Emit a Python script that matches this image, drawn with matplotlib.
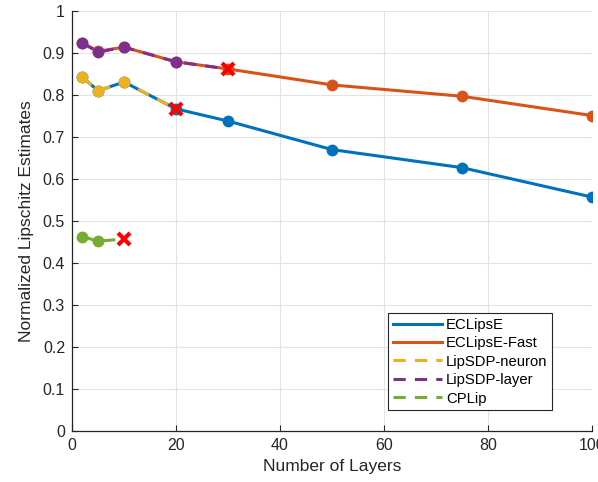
import matplotlib.pyplot as plt

plt.rcParams['font.family'] = ['Liberation Sans', 'DejaVu Sans']

# layer counts
layers = [2, 5, 10, 20, 30, 50, 75, 100]
eclipse = [0.843, 0.810, 0.831, 0.767, 0.738, 0.670, 0.627, 0.557]
eclipse_fast = [0.924, 0.904, 0.914, 0.879, 0.862, 0.824, 0.797, 0.751]

neuron_layers = [2, 5, 10, 20]
lipsdp_neuron = [0.843, 0.810, 0.831, 0.767]
layer_layers = [2, 5, 10, 20, 30]
lipsdp_layer = [0.924, 0.902, 0.914, 0.879, 0.862]
cplip_layers = [2, 5, 10]
cplip = [0.463, 0.452, 0.457]

# where each baseline stopped (last point marked with red x)
fail_x = [neuron_layers[-1], layer_layers[-1], cplip_layers[-1]]
fail_y = [lipsdp_neuron[-1], lipsdp_layer[-1], cplip[-1]]

blue = '#0072BD'
orange = '#D95319'
yellow = '#EDB120'
purple = '#7E2F8E'
green = '#77AC30'
txt = '#262626'

fig = plt.figure(figsize=(5.98, 4.82), dpi=100)
ax = fig.add_axes([72/598, 51/482, 520/598, 420/482])

lw = 2.2
ms = 7.5
ax.plot(layers, eclipse, '-', color=blue, lw=lw, label='ECLipsE')
ax.plot(layers, eclipse, 'o', color=blue, ms=ms)
ax.plot(layers, eclipse_fast, '-', color=orange, lw=lw, label='ECLipsE-Fast')
ax.plot(layers, eclipse_fast, 'o', color=orange, ms=ms)
ax.plot(neuron_layers[:-1], lipsdp_neuron[:-1], 'o', color=yellow, ms=ms)
ax.plot(neuron_layers, lipsdp_neuron, '--', color=yellow, lw=lw, dashes=(4, 3), label='LipSDP-neuron')
ax.plot(layer_layers[:-1], lipsdp_layer[:-1], 'o', color=purple, ms=ms)
ax.plot(layer_layers, lipsdp_layer, '--', color=purple, lw=lw, dashes=(4, 3), label='LipSDP-layer')
ax.plot(cplip_layers[:-1], cplip[:-1], 'o', color=green, ms=ms)
ax.plot(cplip_layers, cplip, '--', color=green, lw=lw, dashes=(4, 3), label='CPLip')
ax.plot(fail_x, fail_y, 'x', color='#FF0000', ms=9, mew=3, zorder=5)

ax.set_xlim(0, 100)
ax.set_ylim(0, 1)
ax.set_xticks(range(0, 101, 20))
ax.set_yticks([i / 10 for i in range(11)])
ax.set_yticklabels(['0'] + ['%.1f' % (i / 10) for i in range(1, 10)] + ['1'])
ax.grid(True, color='#e3e3e3', lw=0.8)
ax.set_axisbelow(True)
for s in ['top', 'right']:
    ax.spines[s].set_visible(False)
for s in ['left', 'bottom']:
    ax.spines[s].set_color(txt)
    ax.spines[s].set_linewidth(0.9)
ax.tick_params(direction='in', length=4, colors=txt, labelsize=11.5, pad=5)

ax.set_xlabel('Number of Layers', fontsize=12.5, color=txt, labelpad=4)
ax.set_ylabel('Normalized Lipschitz Estimates', fontsize=12.5, color=txt, labelpad=6)

leg = ax.legend(loc='lower right', bbox_to_anchor=(552/598, 72/482), bbox_transform=fig.transFigure,
                fontsize=10.7, handlelength=3.3, handletextpad=0.3, labelspacing=0.3,
                borderpad=0.3, fancybox=False, framealpha=1, edgecolor='#262626', borderaxespad=0)
leg.get_frame().set_linewidth(0.8)

fig.savefig('out.png', dpi=100)
